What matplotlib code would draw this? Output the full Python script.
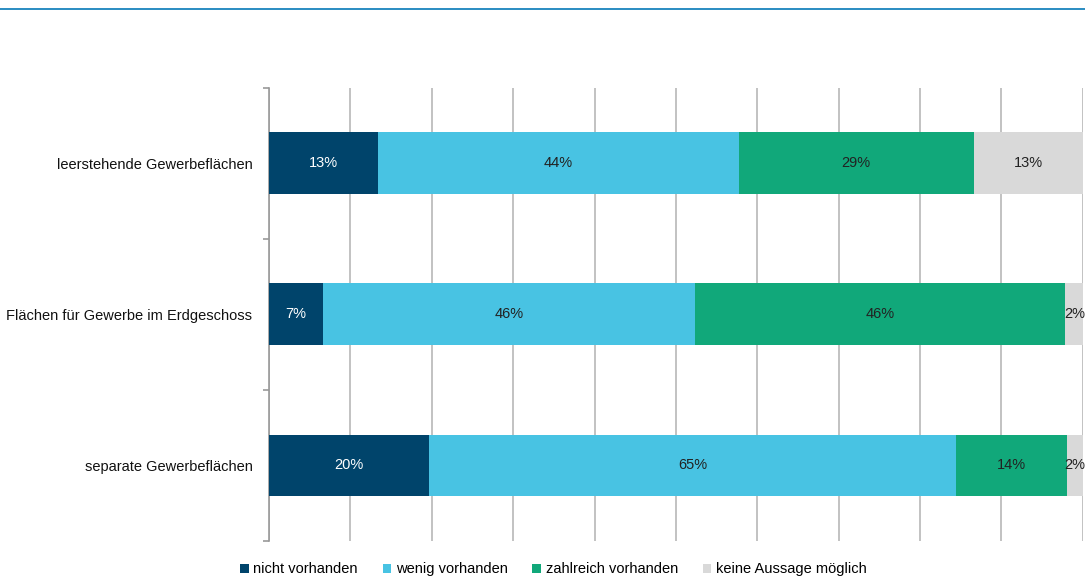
import matplotlib.pyplot as plt
from matplotlib.lines import Line2D
from matplotlib.patches import Patch

plt.rcParams['font.family'] = ['Liberation Sans', 'DejaVu Sans']

# Kategorien (von oben nach unten) und Anteile je Antwort in Prozent
kategorien = ['leerstehende Gewerbeflächen',
              'Flächen für Gewerbe im Erdgeschoss',
              'separate Gewerbeflächen']
nicht_vorhanden = [13.4, 6.6, 19.7]
wenig_vorhanden = [44.3, 45.7, 64.7]
zahlreich_vorhanden = [28.9, 45.5, 13.6]
keine_aussage = [13.4, 2.2, 2.0]

serien = ['nicht vorhanden', 'wenig vorhanden', 'zahlreich vorhanden', 'keine Aussage möglich']
werte = [nicht_vorhanden, wenig_vorhanden, zahlreich_vorhanden, keine_aussage]
farben = ['#00446b', '#48c3e3', '#11a87a', '#d9d9d9']
textfarben = ['white', '#222222', '#222222', '#222222']

fs = 10.5

fig = plt.figure(figsize=(10.85, 5.78), dpi=100)
ax = fig.add_axes([0.248, 0.064, 0.750, 0.784])

y = list(range(len(kategorien)))
links = [0.0] * len(kategorien)
for name, vals, farbe, tf in zip(serien, werte, farben, textfarben):
    bars = ax.barh(y, vals, left=links, height=0.41, color=farbe, label=name, zorder=3)
    for b, v in zip(bars, vals):
        x = b.get_x() + b.get_width() / 2
        ha = 'center'
        # schmale Segmente: Beschriftung rechtsbündig am Balkenende
        if v < 4:
            x = b.get_x() + b.get_width() + 0.3
            ha = 'right'
        ax.text(x, b.get_y() + b.get_height() / 2, f'{v:.0f}%', ha=ha, va='center',
                color=tf, fontsize=fs, zorder=4)
    links = [l + v for l, v in zip(links, vals)]

ax.set_xlim(0, 100)
ax.set_ylim(2.5, -0.5)
ax.set_xticks(range(0, 101, 10))
ax.xaxis.set_tick_params(length=0, labelbottom=False)
ax.grid(axis='x', color='#b8b8b8', linewidth=1.2, zorder=0)

# Trennstriche zwischen den Kategorien, Beschriftung mittig
ax.set_yticks([-0.5, 0.5, 1.5, 2.5], minor=False)
ax.set_yticklabels([])
ax.tick_params(axis='y', length=4, color='#999999', width=1.2)
ax.set_yticks(y, minor=True)
ax.set_yticklabels(kategorien, minor=True, fontsize=fs, color='#111111')
ax.tick_params(axis='y', which='minor', length=0, pad=12)

for s in ['top', 'right', 'bottom']:
    ax.spines[s].set_visible(False)
ax.spines['left'].set_color('#999999')
ax.spines['left'].set_linewidth(1.2)

# Linie am oberen Rand
fig.add_artist(Line2D([0, 1], [0.984, 0.984], transform=fig.transFigure,
                      color='#2a8cc2', linewidth=1.4))

handles = [Patch(facecolor=f, label=n) for n, f in zip(serien, farben)]
fig.legend(handles=handles, loc='lower center', ncol=4, frameon=False,
           bbox_to_anchor=(0.51, -0.02), fontsize=fs, handlelength=0.6,
           handleheight=0.6, handletextpad=0.3, columnspacing=1.7)

fig.savefig('out.png', dpi=100)
